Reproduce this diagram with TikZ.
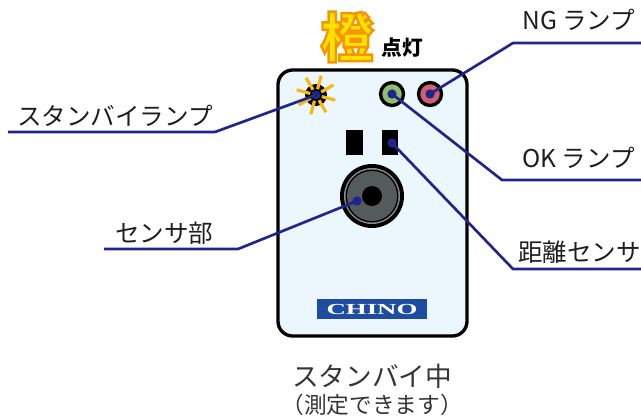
\documentclass[tikz,border=0pt]{standalone}
\usepackage{fontspec}
\setmainfont{Noto Sans CJK JP}
\newfontfamily\logofont{Liberation Serif}
\usetikzlibrary{positioning}
\definecolor{navy}{RGB}{32,36,140}
\definecolor{panel}{RGB}{236,246,253}
\definecolor{lampgreen}{RGB}{140,190,110}
\definecolor{lampred}{RGB}{208,96,112}
\definecolor{rayyellow}{RGB}{245,185,20}
\definecolor{chinoblue}{RGB}{30,76,160}
\definecolor{orangefill}{RGB}{255,226,0}
\definecolor{lensgray}{RGB}{140,140,140}
\definecolor{lensdark}{RGB}{85,90,90}
\definecolor{inkgray}{RGB}{30,30,30}

% glyph filled in the current colour and stroked in orange
\newcommand\edged[1]{\special{pdf:code 2 Tr 1.8 w 0.961 0.588 0 RG}#1\special{pdf:code 0 Tr}}

\tikzset{
  leader/.style={draw=navy, line width=2pt},
  pin/.style={circle, fill=navy, inner sep=0pt, minimum size=7pt},
  partname/.style={anchor=base west, inner sep=0pt, text=inkgray, font=\fontsize{18.4}{21}\selectfont},
  lamp/.style={draw=black, line width=2.5pt},
}

\begin{document}
\begin{tikzpicture}[x=0.75pt,y=-0.75pt]
\useasboundingbox (0,0) rectangle (641,418);

% heading
\node (tint) at (347,37) {\fontsize{40}{42}\selectfont\bfseries\textcolor{orangefill}{\edged{橙}}};
\node (lit) at (402,48) {\fontsize{15.5}{17}\selectfont\bfseries 点灯};

% housing
\draw[line width=2.5pt, fill=panel, rounded corners=11pt] (278,70) rectangle (467,336);

% standby lamp
\fill[black] (316,95) circle (11);
\foreach \a in {15,60,...,330}
  \draw[rayyellow, line width=2.4pt] (316,95) ++(\a:6) -- ++(\a:14);

% result lamps
\draw[lamp, fill=lampgreen] (392,94) circle (11.5);
\draw[lamp, fill=lampred] (430,94) circle (11.5);

% distance sensor windows
\fill[black] (346,130) rectangle (363,155);
\fill[black] (382,130) rectangle (398,155);

% sensor lens
\fill[black] (372,196) circle (32);
\fill[lensgray] (372,196) circle (28);
\fill[black] (372,196) circle (26.5);
\fill[lensdark] (372,196) circle (25);
\fill[black] (372,196) circle (10);

% logo plate
\fill[chinoblue] (317,299) rectangle (427,319);
\node (logo) at (372,309.5) {\textcolor{white}{\logofont\bfseries\fontsize{11.5}{12}\selectfont\scalebox{1.75}[1]{CHINO}}};

% part names
\node[partname] (standby) at (17,125) {スタンバイランプ};
\node[partname] (sensor) at (115,242) {センサ部};
\node[partname] (ng) at (522,29) {NG ランプ};
\node[partname] (ok) at (522,167) {OK ランプ};
\node[partname] (dist) at (518,261) {距離センサ};

\coordinate (sunat) at (316,95);
\coordinate (okat) at (392,94);
\coordinate (ngat) at (430,94);
\coordinate (winat) at (392,143);
\coordinate (lensat) at (357,201);

\coordinate (standbyA) at (8,132);
\coordinate (standbyB) at (215,132);
\coordinate (sensorA) at (104,249);
\coordinate (sensorB) at (238,249);
\coordinate (ngA) at (641,43);
\coordinate (ngB) at (513,43);
\coordinate (okA) at (641,180);
\coordinate (okB) at (502,180);
\coordinate (distA) at (641,269);
\coordinate (distB) at (513,269);

\draw[leader] (standbyA) -- (standbyB) -- (sunat);
\draw[leader] (sensorA) -- (sensorB) -- (lensat);
\draw[leader] (ngA) -- (ngB) -- (ngat);
\draw[leader] (okA) -- (okB) -- (okat);
\draw[leader] (distA) -- (distB) -- (winat);

% pins
\node[pin] (sunpin) at (sunat) {};
\node[pin] (okpin) at (okat) {};
\node[pin] (ngpin) at (ngat) {};
\node[pin] (winpin) at (winat) {};
\node[pin] (lenspin) at (lensat) {};

% status
\node (status) at (372,376) {\textcolor{inkgray!90}{\fontsize{20}{22}\selectfont スタンバイ中}};
\node (note) at (372,405) {\textcolor{inkgray!90}{\fontsize{17}{19}\selectfont （測定できます）}};
\end{tikzpicture}
\end{document}
